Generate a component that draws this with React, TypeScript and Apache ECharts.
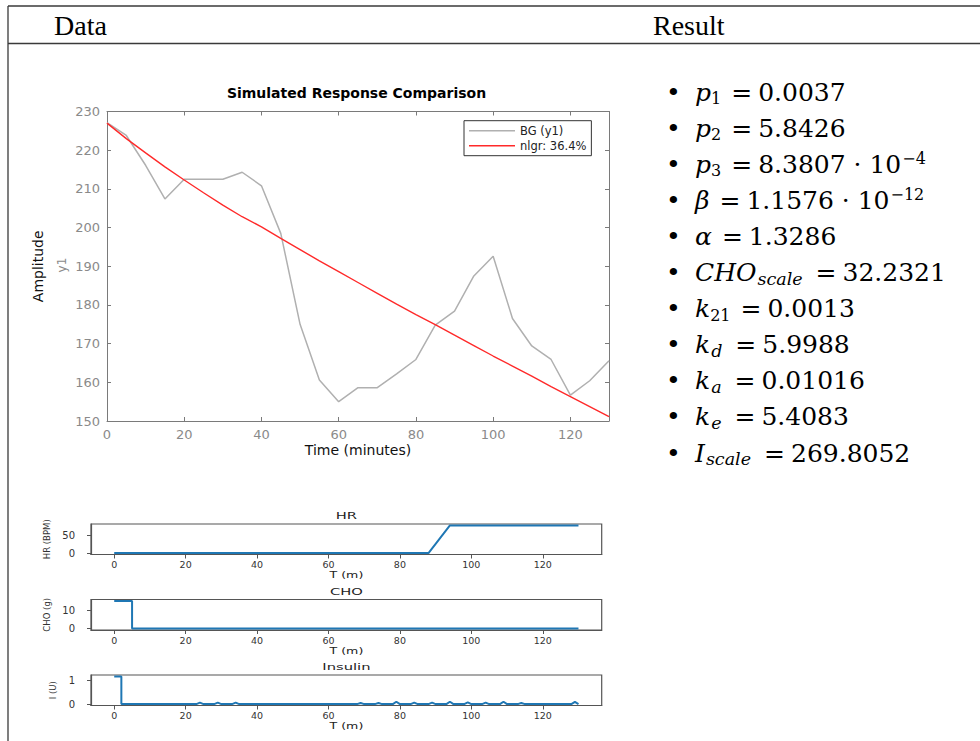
import React, { useEffect, useRef } from "react";
import * as echarts from "echarts";

// ---- Main comparison chart data (minutes, mg/dL) ----
const timeMin = [0, 5, 10, 15, 20, 25, 30, 35, 40, 45, 50, 55, 60, 65, 70, 75, 80, 85, 90, 95, 100, 105, 110, 115, 120, 125, 130];
const bgGlucose = [227.1, 223.8, 216.1, 207.4, 212.5, 212.5, 212.5, 214.3, 210.8, 198.5, 175.0, 160.6, 155.0, 158.6, 158.6, 162.2, 165.9, 174.8, 178.4, 187.5, 192.6, 176.5, 169.4, 165.9, 156.7, 160.4, 165.6];
const nlgrFit = [227.0, 223.0, 219.3, 215.7, 212.3, 209.0, 205.8, 202.8, 200.2, 197.2, 194.3, 191.4, 188.6, 185.8, 183.0, 180.2, 177.5, 174.9, 172.2, 169.5, 166.8, 164.2, 161.6, 158.9, 156.3, 153.7, 151.1];
const seriesNames = ["BG (y1)", "nlgr: 36.4%"];

// ---- Input signals ----
const hrPoints = [[0, 0], [88, 0], [94, 77], [130, 77]];
const choPoints = [[0, 15], [5, 0], [130, 0]];
const insulinPoints = [
  [0, 1.17], [2, 1.17], [2, 0],
  [23, 0], [24, 0.06], [25, 0],
  [28, 0], [29, 0.06], [30, 0],
  [33, 0], [34, 0.06], [35, 0],
  [68, 0], [69, 0.05], [70, 0],
  [73, 0], [74, 0.05], [75, 0],
  [78, 0], [79, 0.1], [80, 0],
  [83, 0], [84, 0.06], [85, 0],
  [88, 0], [89, 0.06], [90, 0],
  [93, 0], [94, 0.1], [95, 0],
  [98, 0], [99, 0.07], [100, 0],
  [103, 0], [104, 0.06], [105, 0],
  [108, 0], [109, 0.1], [110, 0],
  [113, 0], [114, 0.05], [115, 0],
  [128, 0], [129, 0.09], [130, 0],
];
const smallXTicks = [0, 20, 40, 60, 80, 100, 120];
const hrYTicks = [0, 50];
const choYTicks = [0, 10];
const insulinYTicks = [0, 1];

// ---- Result parameters ----
const paramSymbols = ["p", "p", "p", "β", "α", "CHO", "k", "k", "k", "k", "I"];
const paramSubs = ["1", "2", "3", "", "", "scale", "21", "d", "a", "e", "scale"];
const paramSubItalic = [false, false, false, false, false, true, false, true, true, true, true];
const paramValues = ["0.0037", "5.8426", "8.3807", "1.1576", "1.3286", "32.2321", "0.0013", "5.9988", "0.01016", "5.4083", "269.8052"];
const paramExponents = ["", "", "−4", "−12", "", "", "", "", "", "", ""];

const SANS = "DejaVu Sans";
const SERIF = "DejaVu Serif";

function buildOption() {
  const mainAxisColor = "#7a7a7a";
  const mainLabelColor = "#8a8a8a";
  const smallLine = "#555";

  const mainX = (pos: "bottom" | "top") => ({
    gridIndex: 0,
    type: "value",
    position: pos,
    min: 0,
    max: 130,
    interval: 20,
    axisLine: { show: true, onZero: false, lineStyle: { color: mainAxisColor, width: 1 } },
    axisTick: { show: true, inside: true, length: 4, lineStyle: { color: mainAxisColor } },
    axisLabel: {
      show: pos === "bottom",
      showMaxLabel: false,
      color: mainLabelColor,
      fontFamily: SANS,
      fontSize: 13,
      margin: 7,
    },
    splitLine: { show: false },
    ...(pos === "bottom"
      ? {
          name: "Time (minutes)",
          nameLocation: "middle",
          nameGap: 22,
          nameTextStyle: { color: "#111", fontFamily: SANS, fontSize: 14 },
        }
      : {}),
  });
  const mainY = (pos: "left" | "right") => ({
    gridIndex: 0,
    type: "value",
    position: pos,
    min: 150,
    max: 230,
    interval: 10,
    axisLine: { show: true, onZero: false, lineStyle: { color: mainAxisColor, width: 1 } },
    axisTick: { show: true, inside: true, length: 4, lineStyle: { color: mainAxisColor } },
    axisLabel: { show: pos === "left", color: mainLabelColor, fontFamily: SANS, fontSize: 13, margin: 7 },
    splitLine: { show: false },
    ...(pos === "left"
      ? {
          name: "Amplitude",
          nameLocation: "middle",
          nameGap: 62,
          nameRotate: 90,
          nameTextStyle: { color: "#111", fontFamily: SANS, fontSize: 14 },
        }
      : {}),
  });

  const smallX = (gi: number) => ({
    gridIndex: gi,
    type: "value",
    min: -6.5,
    max: 136.5,
    axisLine: { show: true, onZero: false, lineStyle: { color: smallLine, width: 1.2 } },
    axisTick: { show: true, length: 4, customValues: smallXTicks, lineStyle: { color: smallLine } },
    axisLabel: { customValues: smallXTicks, fontFamily: SANS, fontSize: 9.5, color: "#333", margin: 5 },
    splitLine: { show: false },
  });
  const smallY = (gi: number, min: number, max: number, ticks: number[], name: string, gap: number) => ({
    gridIndex: gi,
    type: "value",
    min,
    max,
    axisLine: { show: true, onZero: false, lineStyle: { color: smallLine, width: 1.2 } },
    axisTick: { show: true, length: 4, customValues: ticks, lineStyle: { color: smallLine } },
    axisLabel: { customValues: ticks, fontFamily: SANS, fontSize: 10, color: "#333", margin: 16 },
    splitLine: { show: false },
    name,
    nameLocation: "middle",
    nameGap: gap,
    nameRotate: 90,
    nameTextStyle: { fontFamily: SANS, fontSize: 8.5, color: "#333" },
  });

  const smallGrid = (top: number) => ({
    left: 91,
    top,
    width: 510.7,
    height: 30.5,
    show: true,
    borderColor: smallLine,
    borderWidth: 1.2,
    backgroundColor: "transparent",
    outerBoundsMode: "none",
  });

  // ---- graphics: table, titles, result list ----
  const graphics: any[] = [
    { type: "line", shape: { x1: 8, y1: 6, x2: 980, y2: 6 }, style: { stroke: "#3a3a3a", lineWidth: 1.3 } },
    { type: "line", shape: { x1: 8, y1: 43.5, x2: 980, y2: 43.5 }, style: { stroke: "#3a3a3a", lineWidth: 1.3 } },
    { type: "line", shape: { x1: 8, y1: 6, x2: 8, y2: 741 }, style: { stroke: "#3a3a3a", lineWidth: 1.3 } },
    {
      type: "text", x: 54, y: 25,
      style: { text: "Data", fontFamily: "Liberation Serif", fontSize: 28, fill: "#000", align: "left", verticalAlign: "middle" },
    },
    {
      type: "text", x: 653, y: 25,
      style: { text: "Result", fontFamily: "Liberation Serif", fontSize: 28, fill: "#000", align: "left", verticalAlign: "middle" },
    },
    {
      type: "text", x: 356.5, y: 93,
      style: { text: "Simulated Response Comparison", fontFamily: SANS, fontWeight: "bold", fontSize: 14, fill: "#000", align: "center", verticalAlign: "middle" },
    },
    {
      type: "text", x: 61.5, y: 265, rotation: Math.PI / 2,
      style: { text: "y1", fontFamily: SANS, fontSize: 12, fill: "#8a8a8a", align: "center", verticalAlign: "middle" },
    },
  ];

  const smallTitles = [
    { t: "HR", y: 516 },
    { t: "CHO", y: 591.5 },
    { t: "Insulin", y: 666.5 },
  ];
  smallTitles.forEach((s) =>
    graphics.push({
      type: "text", x: 346.4, y: s.y, scaleX: 1.55,
      style: { text: s.t, fontFamily: SANS, fontSize: 9.5, fill: "#222", align: "center", verticalAlign: "middle" },
    })
  );
  [575, 650.7, 725.7].forEach((yy) =>
    graphics.push({
      type: "text", x: 346.4, y: yy, scaleX: 1.4,
      style: { text: "T (m)", fontFamily: SANS, fontSize: 9, fill: "#222", align: "center", verticalAlign: "middle" },
    })
  );

  const rich = {
    b: { fontFamily: SERIF, fontSize: 25, fill: "#000", width: 29 },
    v: { fontFamily: SERIF, fontStyle: "italic", fontSize: 25, fill: "#000" },
    s: { fontFamily: SERIF, fontSize: 16, fill: "#000", verticalAlign: "bottom", padding: [0, 0, 3.4, 0] },
    si: { fontFamily: SERIF, fontStyle: "italic", fontSize: 17.5, fill: "#000", verticalAlign: "bottom", padding: [0, 3, 3, 1] },
    eq: { fontFamily: SERIF, fontSize: 25, fill: "#000", padding: [0, 6, 0, 10] },
    n: { fontFamily: SERIF, fontSize: 25, fill: "#000" },
    e: { fontFamily: SERIF, fontSize: 16, fill: "#000", verticalAlign: "top", padding: [4, 0, 0, 1] },
  };
  paramSymbols.forEach((sym, i) => {
    let txt = `{b|•}{v|${sym}}`;
    if (paramSubs[i]) txt += `{${paramSubItalic[i] ? "si" : "s"}|${paramSubs[i]}}`;
    txt += `{eq|=}{n|${paramValues[i]}}`;
    if (paramExponents[i]) txt += `{n| · 10}{e|${paramExponents[i]}}`;
    graphics.push({
      type: "text",
      x: 666,
      y: 74 + i * 36.1,
      style: { text: txt, rich, lineHeight: 36, align: "left", verticalAlign: "top", fontFamily: SERIF, fontSize: 25 },
    });
  });

  return {
    animation: false,
    backgroundColor: "#fff",
    textStyle: { fontFamily: SANS },
    grid: [
      { left: 107, top: 111.5, width: 502, height: 309.5, outerBoundsMode: "none" },
      smallGrid(524),
      smallGrid(599.5),
      smallGrid(675),
    ],
    xAxis: [mainX("bottom"), mainX("top"), smallX(1), smallX(2), smallX(3)],
    yAxis: [
      mainY("left"),
      mainY("right"),
      smallY(1, -3.85, 80.85, hrYTicks, "HR (BPM)", 37),
      smallY(2, -0.75, 15.75, choYTicks, "CHO (g)", 39),
      smallY(3, -0.0585, 1.2285, insulinYTicks, "I (U)", 24),
    ],
    legend: {
      left: 464,
      top: 120.7,
      orient: "vertical",
      icon: "rect",
      itemWidth: 46,
      itemHeight: 1.5,
      itemGap: 1,
      padding: [3, 5, 3, 5],
      borderColor: "#333",
      borderWidth: 1,
      borderRadius: 0,
      backgroundColor: "#fff",
      textStyle: { fontFamily: SANS, fontSize: 11.5, color: "#222", lineHeight: 14 },
      data: seriesNames,
      selectedMode: false,
    },
    series: [
      {
        name: seriesNames[0],
        type: "line",
        xAxisIndex: 0,
        yAxisIndex: 0,
        data: timeMin.map((t, i) => [t, bgGlucose[i]]),
        symbol: "none",
        lineStyle: { color: "#b0b0b0", width: 1.5 },
        itemStyle: { color: "#b0b0b0" },
      },
      {
        name: seriesNames[1],
        type: "line",
        xAxisIndex: 0,
        yAxisIndex: 0,
        data: timeMin.map((t, i) => [t, nlgrFit[i]]),
        symbol: "none",
        lineStyle: { color: "#ff2a2a", width: 1.4 },
        itemStyle: { color: "#ff2a2a" },
      },
      {
        type: "line",
        xAxisIndex: 2,
        yAxisIndex: 2,
        data: hrPoints,
        symbol: "none",
        lineStyle: { color: "#1f77b4", width: 2 },
      },
      {
        type: "line",
        xAxisIndex: 3,
        yAxisIndex: 3,
        data: choPoints,
        step: "end",
        symbol: "none",
        lineStyle: { color: "#1f77b4", width: 2 },
      },
      {
        type: "line",
        xAxisIndex: 4,
        yAxisIndex: 4,
        data: insulinPoints,
        symbol: "none",
        lineStyle: { color: "#1f77b4", width: 2 },
      },
    ],
    graphic: graphics,
  };
}

export default function App() {
  const ref = useRef<HTMLDivElement>(null);
  useEffect(() => {
    if (!ref.current) return;
    const chart = echarts.init(ref.current, undefined, { renderer: "svg" });
    chart.setOption(buildOption() as any);
    return () => chart.dispose();
  }, []);
  return (
    <div
      ref={ref}
      style={{ position: "absolute", left: 0, top: 0, width: 980, height: 741, background: "#fff" }}
    />
  );
}
